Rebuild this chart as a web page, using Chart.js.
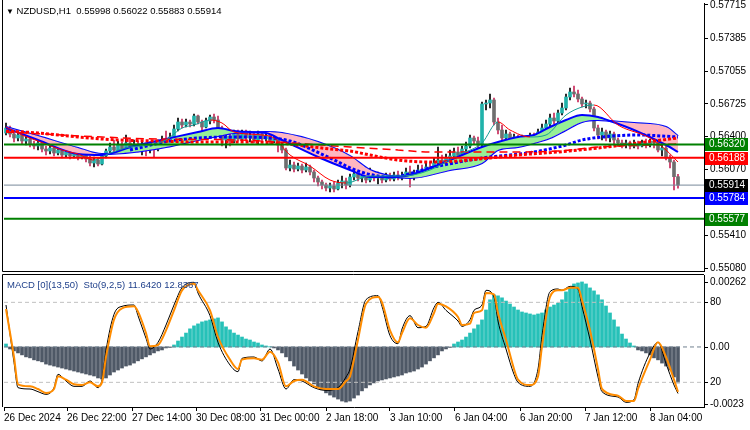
<!DOCTYPE html>
<html><head><meta charset="utf-8">
<script src="https://cdn.jsdelivr.net/npm/chart.js@4.4.1/dist/chart.umd.min.js"></script>
<style>
html,body{margin:0;padding:0;background:#fff;}
#wrap{position:relative;width:750px;height:430px;overflow:hidden;background:#fff;}
canvas{position:absolute;left:0;}
#cMain{top:0;}
#cSub{top:272px;}
.lbl{position:absolute;font-family:"Liberation Sans",Arial,sans-serif;font-size:9.5px;line-height:12px;white-space:pre;}
</style></head>
<body><div id="wrap">
<canvas id="cMain" width="750" height="272"></canvas>
<canvas id="cSub" width="750" height="158"></canvas>
<div class="lbl" id="title" style="left:6px;top:5px;color:#000;"><span style="font-size:8px">▼</span> NZDUSD,H1  0.55998 0.56022 0.55883 0.55914</div>
<div class="lbl" id="subtitle" style="left:7px;top:279px;color:#1e3f8a;">MACD [0](13,50)  Sto(9,2,5) 11.6420 12.8367</div>
</div>
<script>
const FONT = '"Liberation Sans", Arial, sans-serif';
const N_SLOTS = 175;

// ---- candles (hourly) ----
const opens = [0.56435,0.56485,0.56425,0.56385,0.56415,0.56355,0.56375,0.56325,0.56305,0.56335,
0.56275,0.56255,0.56285,0.56235,0.56265,0.56215,0.56245,0.56205,0.56235,0.56195,
0.56215,0.56175,0.56135,0.56165,0.56125,0.56205,0.56255,0.56295,0.56265,0.56315,
0.56275,0.56335,0.56295,0.56325,0.56275,0.56305,0.56265,0.56305,0.56275,0.56335,
0.56365,0.56335,0.56395,0.56475,0.56545,0.56515,0.56545,0.56525,0.56605,0.56545,
0.56495,0.56555,0.56595,0.56565,0.56485,0.56365,0.56405,0.56355,0.56425,0.56375,
0.56445,0.56385,0.56415,0.56365,0.56425,0.56375,0.56405,0.56355,0.56385,0.56315,
0.56265,0.56085,0.56115,0.56075,0.56105,0.56065,0.56095,0.56045,0.55985,0.55945,
0.55915,0.55885,0.55905,0.55875,0.55935,0.55955,0.55915,0.55995,0.56025,0.55985,
0.56005,0.55965,0.56025,0.55985,0.56015,0.55965,0.56005,0.55975,0.56015,0.55985,
0.56005,0.56045,0.55995,0.56035,0.56065,0.56045,0.56095,0.56075,0.56135,0.56165,
0.56135,0.56185,0.56205,0.56245,0.56215,0.56275,0.56305,0.56385,0.56355,0.56315,
0.56725,0.56735,0.56765,0.56545,0.56465,0.56385,0.56425,0.56365,0.56395,0.56345,
0.56385,0.56355,0.56405,0.56385,0.56445,0.56485,0.56525,0.56585,0.56555,0.56635,
0.56685,0.56795,0.56845,0.56825,0.56775,0.56725,0.56735,0.56675,0.56485,0.56415,
0.56445,0.56385,0.56425,0.56365,0.56335,0.56315,0.56335,0.56305,0.56325,0.56305,
0.56335,0.56315,0.56355,0.56335,0.56265,0.56285,0.56185,0.56145,0.55998];
const highs = [0.56535,0.56505,0.56455,0.56445,0.56435,0.56405,0.56395,0.56355,0.56365,0.56355,
0.56305,0.56315,0.56295,0.56285,0.56275,0.56265,0.56265,0.56255,0.56245,0.56245,
0.56235,0.56205,0.56195,0.56185,0.56225,0.56275,0.56335,0.56365,0.56355,0.56345,
0.56415,0.56375,0.56365,0.56355,0.56355,0.56335,0.56345,0.56335,0.56365,0.56405,
0.56455,0.56435,0.56515,0.56585,0.56575,0.56575,0.56565,0.56625,0.56615,0.56565,
0.56585,0.56615,0.56625,0.56605,0.56505,0.56455,0.56435,0.56465,0.56465,0.56465,
0.56465,0.56455,0.56445,0.56455,0.56445,0.56435,0.56435,0.56415,0.56405,0.56345,
0.56285,0.56165,0.56145,0.56135,0.56125,0.56135,0.56115,0.56065,0.56005,0.55965,
0.55935,0.55935,0.55945,0.55965,0.56005,0.55985,0.56025,0.56065,0.56055,0.56045,
0.56035,0.56085,0.56045,0.56045,0.56025,0.56035,0.56035,0.56045,0.56055,0.56045,
0.56085,0.56105,0.56065,0.56115,0.56115,0.56135,0.56145,0.56185,0.56295,0.56215,
0.56225,0.56265,0.56285,0.56295,0.56305,0.56345,0.56415,0.56405,0.56395,0.56745,
0.56765,0.56825,0.56785,0.56585,0.56515,0.56465,0.56445,0.56425,0.56415,0.56415,
0.56405,0.56435,0.56435,0.56475,0.56525,0.56565,0.56625,0.56635,0.56665,0.56735,
0.56825,0.56885,0.56905,0.56865,0.56795,0.56765,0.56755,0.56695,0.56515,0.56485,
0.56465,0.56455,0.56445,0.56385,0.56365,0.56365,0.56355,0.56365,0.56355,0.56365,
0.56375,0.56375,0.56385,0.56355,0.56315,0.56305,0.56215,0.56165,0.56022];
const lows = [0.56415,0.56395,0.56345,0.56355,0.56325,0.56315,0.56295,0.56275,0.56265,0.56245,
0.56215,0.56225,0.56205,0.56215,0.56185,0.56195,0.56175,0.56185,0.56165,0.56175,
0.56145,0.56105,0.56095,0.56105,0.56115,0.56185,0.56235,0.56245,0.56235,0.56255,
0.56245,0.56265,0.56255,0.56245,0.56215,0.56205,0.56235,0.56195,0.56255,0.56305,
0.56315,0.56305,0.56375,0.56455,0.56485,0.56495,0.56495,0.56505,0.56525,0.56435,
0.56485,0.56525,0.56535,0.56455,0.56305,0.56285,0.56305,0.56335,0.56355,0.56355,
0.56355,0.56345,0.56335,0.56325,0.56345,0.56355,0.56325,0.56335,0.56245,0.56235,
0.56065,0.56055,0.56045,0.56055,0.56035,0.56045,0.56015,0.55945,0.55905,0.55875,
0.55855,0.55845,0.55845,0.55865,0.55885,0.55875,0.55895,0.55965,0.55955,0.55945,
0.55935,0.55945,0.55955,0.55925,0.55935,0.55945,0.55955,0.55955,0.55965,0.55965,
0.55985,0.55895,0.55965,0.56005,0.56015,0.56025,0.56045,0.56055,0.56105,0.56105,
0.56115,0.56145,0.56185,0.56185,0.56195,0.56245,0.56285,0.56325,0.56275,0.56295,
0.56665,0.56685,0.56515,0.56425,0.56345,0.56335,0.56335,0.56325,0.56315,0.56325,
0.56325,0.56335,0.56345,0.56365,0.56415,0.56465,0.56495,0.56525,0.56535,0.56615,
0.56665,0.56765,0.56795,0.56745,0.56695,0.56685,0.56645,0.56455,0.56375,0.56365,
0.56355,0.56345,0.56315,0.56305,0.56285,0.56285,0.56275,0.56285,0.56275,0.56295,
0.56285,0.56295,0.56285,0.56245,0.56205,0.56165,0.56085,0.55865,0.55883];
const closes = [0.56485,0.56425,0.56385,0.56415,0.56355,0.56375,0.56325,0.56305,0.56335,0.56275,
0.56255,0.56285,0.56235,0.56265,0.56215,0.56245,0.56205,0.56235,0.56195,0.56215,
0.56175,0.56135,0.56165,0.56125,0.56205,0.56255,0.56295,0.56265,0.56315,0.56275,
0.56335,0.56295,0.56325,0.56275,0.56305,0.56265,0.56305,0.56275,0.56335,0.56365,
0.56335,0.56395,0.56475,0.56545,0.56515,0.56545,0.56525,0.56605,0.56545,0.56495,
0.56555,0.56595,0.56565,0.56485,0.56365,0.56405,0.56355,0.56425,0.56375,0.56445,
0.56385,0.56415,0.56365,0.56425,0.56375,0.56405,0.56355,0.56385,0.56315,0.56265,
0.56085,0.56115,0.56075,0.56105,0.56065,0.56095,0.56045,0.55985,0.55945,0.55915,
0.55885,0.55905,0.55875,0.55935,0.55955,0.55915,0.55995,0.56025,0.55985,0.56005,
0.55965,0.56025,0.55985,0.56015,0.55965,0.56005,0.55975,0.56015,0.55985,0.56005,
0.56045,0.55995,0.56035,0.56065,0.56045,0.56095,0.56075,0.56135,0.56165,0.56135,
0.56185,0.56205,0.56245,0.56215,0.56275,0.56305,0.56385,0.56355,0.56315,0.56725,
0.56735,0.56765,0.56545,0.56465,0.56385,0.56425,0.56365,0.56395,0.56345,0.56385,
0.56355,0.56405,0.56385,0.56445,0.56485,0.56525,0.56585,0.56555,0.56635,0.56685,
0.56795,0.56845,0.56825,0.56775,0.56725,0.56735,0.56675,0.56485,0.56415,0.56445,
0.56385,0.56425,0.56365,0.56335,0.56315,0.56335,0.56305,0.56325,0.56305,0.56335,
0.56315,0.56355,0.56335,0.56265,0.56285,0.56185,0.56145,0.55998,0.55914];

// ---- overlay indicators: [bar, price] ----
const ribbonFast = [[0,0.56485],[8,0.56365],[18,0.56225],[24,0.56215],[32,0.56305],[40,0.56375],[48,0.56445],[53,0.56485],[57,0.56455],[61,0.56445],[65,0.56435],[69,0.56365],[78,0.56195],[86,0.56065],[91,0.55995],[96,0.55995],[101,0.56015],[111,0.56165],[119,0.56295],[123,0.56345],[128,0.56395],[132,0.56415],[136,0.56495],[140,0.56565],[144,0.56615],[148,0.56595],[151,0.56555],[157,0.56465],[165,0.56315],[168,0.56245]];
const ribbonSlow = [[0,0.56495],[8,0.56405],[18,0.56285],[24,0.56225],[32,0.56245],[40,0.56295],[48,0.56365],[53,0.56405],[57,0.56435],[61,0.56440],[65,0.56445],[69,0.56435],[78,0.56345],[86,0.56205],[91,0.56065],[96,0.56005],[101,0.55985],[111,0.56065],[119,0.56135],[123,0.56265],[128,0.56295],[132,0.56335],[136,0.56385],[140,0.56465],[144,0.56545],[148,0.56565],[151,0.56555],[157,0.56535],[165,0.56495],[168,0.56405]];
const redDots = [[0,0.56455],[8,0.56435],[18,0.56395],[28,0.56365],[38,0.56355],[48,0.56345],[58,0.56345],[68,0.56335],[73,0.56315],[81,0.56275],[86,0.56255],[91,0.56215],[98,0.56165],[106,0.56145],[113,0.56155],[121,0.56185],[128,0.56215],[138,0.56245],[148,0.56285],[158,0.56335],[168,0.56385]];
const redDash = [[0,0.56445],[24,0.56395],[38,0.56375],[58,0.56365],[86,0.56295],[98,0.56265],[106,0.56245],[123,0.56245],[138,0.56255],[148,0.56295],[161,0.56315],[168,0.56325]];
const blueDots = [[31,0.56265],[41,0.56355],[48,0.56385],[56,0.56395],[66,0.56385],[71,0.56355],[81,0.56185],[88,0.56055],[96,0.55995],[107,0.56095],[119,0.56185],[132,0.56245],[140,0.56315],[144,0.56365],[149,0.56395],[158,0.56415],[168,0.56395]];
const fastLine = [[0,0.56495],[4,0.56415],[8,0.56355],[14,0.56265],[18,0.56225],[22,0.56165],[26,0.56235],[31,0.56295],[36,0.56315],[40,0.56365],[44,0.56485],[47,0.56515],[51,0.56565],[54,0.56535],[57,0.56445],[64,0.56415],[67,0.56385],[71,0.56215],[76,0.56105],[81,0.55965],[85,0.55935],[91,0.56005],[99,0.56005],[106,0.56065],[113,0.56215],[119,0.56335],[123,0.56545],[126,0.56465],[131,0.56395],[135,0.56415],[140,0.56615],[144,0.56695],[147,0.56715],[153,0.56515],[161,0.56385],[165,0.56265],[168,0.56145]];

const priceTicks = [0.57715,0.57385,0.57055,0.56725,0.56400,0.56070,0.55740,0.55410,0.55080];
const levelValues = [0.56320,0.56188,0.55914,0.55784,0.55577];
const levelLabels = ['0.56320','0.56188','0.55914','0.55784','0.55577'];

// ---- sub window ----
const macdHist = [0.00012,-0.00008,-0.00016,-0.00024,-0.00032,-0.00040,-0.00044,-0.00052,-0.00056,-0.00060,
-0.00069,-0.00073,-0.00077,-0.00081,-0.00085,-0.00089,-0.00093,-0.00097,-0.00101,-0.00105,
-0.00109,-0.00113,-0.00117,-0.00125,-0.00129,-0.00125,-0.00113,-0.00101,-0.00093,-0.00085,
-0.00077,-0.00073,-0.00065,-0.00056,-0.00048,-0.00040,-0.00032,-0.00024,-0.00016,-0.00012,
-0.00004,-0.00002,0.00008,0.00024,0.00040,0.00056,0.00073,0.00085,0.00093,0.00101,
0.00105,0.00109,0.00113,0.00117,0.00101,0.00081,0.00069,0.00056,0.00048,0.00040,
0.00032,0.00028,0.00020,0.00016,0.00008,0.00004,0.00001,-0.00004,-0.00012,-0.00024,
-0.00040,-0.00056,-0.00077,-0.00093,-0.00109,-0.00125,-0.00137,-0.00149,-0.00161,-0.00173,
-0.00185,-0.00194,-0.00202,-0.00210,-0.00218,-0.00222,-0.00218,-0.00206,-0.00194,-0.00177,
-0.00165,-0.00153,-0.00145,-0.00137,-0.00133,-0.00129,-0.00125,-0.00121,-0.00117,-0.00113,
-0.00105,-0.00101,-0.00097,-0.00089,-0.00081,-0.00069,-0.00056,-0.00044,-0.00032,-0.00016,
-0.00008,-0.00002,0.00012,0.00020,0.00028,0.00040,0.00056,0.00073,0.00089,0.00109,
0.00149,0.00190,0.00210,0.00206,0.00198,0.00185,0.00173,0.00161,0.00149,0.00141,
0.00137,0.00133,0.00129,0.00133,0.00137,0.00149,0.00161,0.00169,0.00177,0.00190,
0.00222,0.00238,0.00254,0.00258,0.00262,0.00254,0.00238,0.00226,0.00210,0.00190,
0.00165,0.00137,0.00109,0.00081,0.00052,0.00032,0.00016,0.00004,-0.00012,-0.00016,
-0.00024,-0.00032,-0.00044,-0.00052,-0.00065,-0.00077,-0.00093,-0.00121,-0.00145];
const stochMain = [[0,78],[2,35],[3,16],[6,15],[8,13],[10,11],[12,16],[13,26],[15,21],[17,17],[19,17],[21,21],[23,16],[24,22],[25,44],[27,71],[29,77],[32,78],[33,70],[35,53],[36,45],[38,50],[40,63],[42,78],[44,91],[47,95],[48,87],[51,70],[53,50],[56,33],[58,28],[59,38],[62,39],[64,36],[66,45],[68,30],[70,15],[72,22],[74,21],[77,16],[80,14],[83,16],[85,24],[86,30],[88,58],[90,82],[93,85],[94,77],[96,55],[98,49],[99,60],[101,70],[103,61],[105,62],[107,76],[108,80],[110,74],[113,66],[114,62],[116,67],[117,74],[119,78],[120,89],[122,84],[123,66],[125,45],[127,26],[128,20],[131,17],[133,30],[134,55],[136,88],[138,90],[139,89],[141,92],[143,90],[144,77],[146,52],[148,24],[149,13],[153,9],[155,5],[157,7],[158,19],[161,42],[163,50],[165,34],[167,18],[168,11.642]];
const stochSignal = [[0,75],[2,39],[3,18.5],[6,17],[8,15],[10,12],[12,15],[13,24.5],[15,22],[17,18.5],[19,18],[21,20],[23,17],[24,20],[25,39],[27,67],[29,75.5],[32,77],[33,73],[35,57],[36,47],[38,48],[40,59],[42,74],[44,89],[47,94],[48,89],[51,74],[53,54],[56,37],[58,30],[59,37],[62,38],[64,37],[66,43],[68,35],[70,17],[72,21],[74,22],[77,17],[80,15],[83,15],[85,21],[86,24.5],[88,52],[90,79],[93,84],[94,80],[96,59],[98,50],[99,57],[101,68],[103,63],[105,61],[107,72],[108,79],[110,77],[113,69],[114,63],[116,64],[117,72],[119,74],[120,87],[122,86],[123,72],[125,52],[127,30],[128,22],[131,18],[133,24.5],[134,47],[136,84],[138,89],[139,89],[141,91],[143,91],[144,81.5],[146,59],[148,30],[149,15],[153,10],[155,6],[157,6],[158,15],[161,37],[163,50],[165,39],[167,22],[168,12.8367]];
const stochLevels = [80,20];
const macdZero = [0];
const macdTickValues = [0.00262,0,-0.0023];
const macdTickLabels = ['0.00262','0.00','-0.0023'];
const timeTickBars = [-0.5,15.25,31.5,47.5,63.5,80,96,112.25,128.5,144.75,161];
const timeTickLabels = ['26 Dec 2024','26 Dec 22:00','27 Dec 14:00','30 Dec 08:00','31 Dec 00:00','2 Jan 18:00','3 Jan 10:00','6 Jan 04:00','6 Jan 20:00','7 Jan 12:00','8 Jan 04:00'];

// ---- styles ----
const levelColors = ['#008000','#ff0000','#778899','#0000ff','#008000'];
const levelWidths = [2,2,1,2,2];
const levelBoxColors = ['#008000','#ff0000','#000000','#0000ff','#008000'];
const UP = '#20b2aa', DOWN = '#6e6e6e', UPW = '#000000', DOWNW = '#c8285a';

const idx = closes.map((c,i)=>i);
const isUp = i => closes[i] >= opens[i];
const pts = a => a.map(p=>({x:p[0], y:p[1]}));
const hline = v => [{x:-0.5,y:v},{x:N_SLOTS-0.5,y:v}];
const xOpts = {type:'linear', min:-0.5, max:N_SLOTS-0.5, offset:false, display:false, grid:{offset:false}};

const mainDatasets = [];
levelValues.forEach((v,k)=>mainDatasets.push({type:'line', data:hline(v), borderColor:levelColors[k], borderWidth:levelWidths[k], pointRadius:0, order:0}));
mainDatasets.push({type:'line', data:pts(fastLine), borderWidth:1, pointRadius:0, cubicInterpolationMode:'monotone', order:1, borderColor:'#ff0000',
  segment:{borderColor: c => c.p1.parsed.y >= c.p0.parsed.y ? '#1a9c94' : '#ff0000'}});
mainDatasets.push({type:'line', data:pts(redDash), borderColor:'#ff0000', borderWidth:1.5, borderDash:[8,5], pointRadius:0, order:2, cubicInterpolationMode:'monotone'});
mainDatasets.push({type:'line', data:pts(redDots), borderColor:'#ff0000', borderWidth:3, borderDash:[3,2], pointRadius:0, order:2, cubicInterpolationMode:'monotone'});
mainDatasets.push({type:'line', data:pts(blueDots), borderColor:'#0000ff', borderWidth:3, borderDash:[3,2], pointRadius:0, order:2, cubicInterpolationMode:'monotone'});
mainDatasets.push({type:'line', data:pts(ribbonFast), borderColor:'#0000ff', borderWidth:2, pointRadius:0, order:3, cubicInterpolationMode:'monotone',
  fill:{target:'+1', above:'rgb(150,240,150)', below:'rgb(255,182,193)'}});
mainDatasets.push({type:'line', data:pts(ribbonSlow), borderColor:'#0000ff', borderWidth:2, pointRadius:0, order:3, cubicInterpolationMode:'monotone'});
mainDatasets.push({type:'bar', data:idx.map(i=>({x:i, y:[opens[i], closes[i]]})), backgroundColor:idx.map(i=>isUp(i)?UP:DOWN), barThickness:3, grouped:false, minBarLength:1, order:4});
mainDatasets.push({type:'bar', data:idx.map(i=>({x:i, y:[lows[i], highs[i]]})), backgroundColor:idx.map(i=>isUp(i)?UPW:DOWNW), barThickness:1, grouped:false, order:5});

const mainDeco = {
  id:'mainDeco',
  afterDraw(chart){
    const {ctx, chartArea:a, scales:{y}} = chart;
    ctx.save();
    ctx.strokeStyle = '#000'; ctx.lineWidth = 1;
    ctx.beginPath(); ctx.moveTo(2.5, 0); ctx.lineTo(2.5, a.bottom + 0.5); ctx.lineTo(a.right, a.bottom + 0.5); ctx.stroke();
    ctx.font = '10px ' + FONT; ctx.textBaseline = 'middle'; ctx.textAlign = 'left';
    levelValues.forEach((v,k)=>{
      const py = Math.round(y.getPixelForValue(v));
      ctx.fillStyle = levelBoxColors[k]; ctx.fillRect(a.right + 1, py - 6, 43, 13);
      ctx.fillStyle = '#fff'; ctx.fillText(levelLabels[k], a.right + 5, py + 0.5);
    });
    ctx.restore();
  }
};

new Chart(document.getElementById('cMain'), {
  type:'bar',
  data:{datasets:mainDatasets},
  options:{
    responsive:false, animation:false, devicePixelRatio:1,
    layout:{padding:{left:4, top:3, right:0, bottom:1}},
    plugins:{legend:{display:false}, tooltip:{enabled:false}},
    scales:{
      x: xOpts,
      y: {type:'linear', position:'right', min:0.55055, max:0.57735,
        afterFit: s => { s.width = 46; s.paddingTop = 0; s.paddingBottom = 0; },
        afterBuildTicks: s => { s.ticks = priceTicks.map(v=>({value:v})); },
        ticks:{callback:v=>v.toFixed(5), font:{family:FONT, size:10}, color:'#000', padding:2},
        grid:{drawOnChartArea:false, drawTicks:true, tickLength:4, color:'#000'},
        border:{display:true, color:'#000'}}
    }
  },
  plugins:[mainDeco]
});

const subDatasets = [
  {type:'line', data:pts(stochSignal), yAxisID:'y', borderColor:'#ff8c00', borderWidth:2, pointRadius:0, cubicInterpolationMode:'monotone', order:0},
  {type:'line', data:pts(stochMain), yAxisID:'y', borderColor:'#000', borderWidth:1, pointRadius:0, cubicInterpolationMode:'monotone', order:1},
  ...stochLevels.map(v=>({type:'line', data:hline(v), yAxisID:'y', borderColor:'#c0c0c0', borderWidth:1, borderDash:[4,3], pointRadius:0, order:2})),
  ...macdZero.map(v=>({type:'line', data:hline(v), yAxisID:'m', borderColor:'#708090', borderWidth:1, borderDash:[4,3], pointRadius:0, order:2})),
  {type:'bar', data:idx.map(i=>({x:i, y:macdHist[i]})), yAxisID:'m', backgroundColor:idx.map(i=>macdHist[i]>=0?'#26c1b8':'#4e5866'), barThickness:3, grouped:false, order:3}
];

const subDeco = {
  id:'subDeco',
  afterDraw(chart){
    const {ctx, chartArea:a, scales:{m}} = chart;
    ctx.save();
    ctx.strokeStyle = '#000'; ctx.lineWidth = 1;
    ctx.beginPath(); ctx.moveTo(2.5, a.bottom); ctx.lineTo(2.5, 2.5); ctx.lineTo(a.right, 2.5); ctx.stroke();
    ctx.font = '10px ' + FONT; ctx.textBaseline = 'middle'; ctx.textAlign = 'left'; ctx.fillStyle = '#000';
    macdTickValues.forEach((v,k)=>{
      const py = Math.round(m.getPixelForValue(v)) + 0.5;
      ctx.beginPath(); ctx.moveTo(a.right, py); ctx.lineTo(a.right + 4, py); ctx.stroke();
      ctx.fillText(macdTickLabels[k], a.right + 6, py);
    });
    ctx.restore();
  }
};

new Chart(document.getElementById('cSub'), {
  type:'bar',
  data:{datasets:subDatasets},
  options:{
    responsive:false, animation:false, devicePixelRatio:1,
    layout:{padding:{left:4, top:3, right:0, bottom:0}},
    plugins:{legend:{display:false}, tooltip:{enabled:false}},
    scales:{
      x: {type:'linear', min:-0.5, max:N_SLOTS-0.5, offset:false,
        afterBuildTicks: s => { s.ticks = timeTickBars.map(v=>({value:v})); },
        afterFit: s => { s.height = 23; s.paddingLeft = 0; s.paddingRight = 0; },
        ticks:{autoSkip:false, maxRotation:0, minRotation:0, align:'start', padding:1, font:{family:FONT, size:10}, color:'#000', callback:(v,i)=>timeTickLabels[i]},
        grid:{drawOnChartArea:false, drawTicks:true, tickLength:4, color:'#000', offset:false},
        border:{display:true, color:'#000'}},
      y: {type:'linear', position:'right', min:1.5, max:100.5,
        afterFit: s => { s.width = 46; s.paddingTop = 0; s.paddingBottom = 0; },
        afterBuildTicks: s => { s.ticks = stochLevels.map(v=>({value:v})); },
        ticks:{callback:v=>String(v), font:{family:FONT, size:10}, color:'#000', padding:2},
        grid:{drawOnChartArea:false, drawTicks:true, tickLength:4, color:'#000'},
        border:{display:true, color:'#000'}},
      m: {type:'linear', display:false, min:-0.00242, max:0.0029}
    }
  },
  plugins:[subDeco]
});
</script>
</body></html>
